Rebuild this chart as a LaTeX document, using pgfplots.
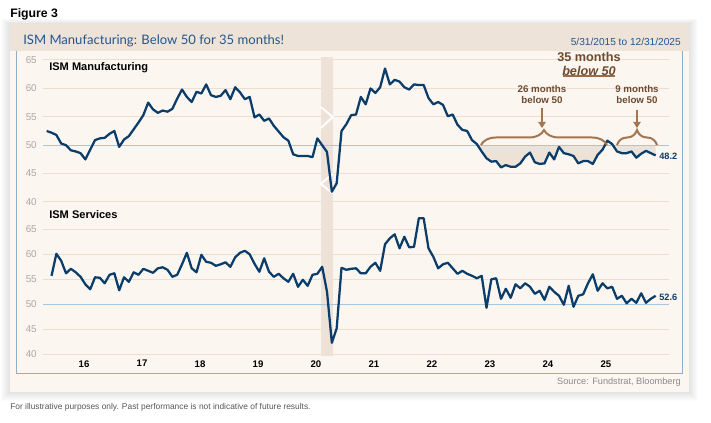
\documentclass[border=0pt]{standalone}
\usepackage{fontspec}
\setmainfont{Liberation Sans}
\newfontfamily\titlefont{Lato}
\usepackage{pgfplots}
\usepackage{pgfplotstable}
\pgfplotsset{compat=1.18}
\usetikzlibrary{decorations.pathreplacing,arrows.meta}
\definecolor{navy}{HTML}{0B3D6B}
\definecolor{bodyc}{HTML}{FCF6F0}
\definecolor{headc}{HTML}{EEE3D9}
\definecolor{gridc}{HTML}{EADFD3}
\definecolor{fiftyc}{HTML}{A6C6DD}
\definecolor{bandc}{HTML}{EEE2D8}
\definecolor{shadec}{HTML}{EEE2D7}
\definecolor{bracec}{HTML}{A47650}
\definecolor{annc}{HTML}{6E4A2E}
\definecolor{titleblue}{HTML}{24578A}
\definecolor{framec}{HTML}{8EB0CD}
\definecolor{tickc}{HTML}{A8A8A8}
\definecolor{srcc}{HTML}{8A8A8A}
\definecolor{footc}{HTML}{555555}

\pgfplotstableread{
m v
0 52.5
1 52.2
2 51.8
3 50.3
4 50.0
5 49.1
6 48.9
7 48.6
8 47.5
9 49.2
10 50.9
11 51.2
12 51.3
13 52.0
14 52.5
15 49.7
16 51.0
17 51.6
18 52.8
19 54.0
20 55.3
21 57.5
22 56.3
23 55.7
24 56.1
25 55.9
26 56.4
27 58.2
28 59.8
29 58.5
30 57.6
31 59.4
32 59.1
33 60.7
34 58.8
35 58.5
36 58.7
37 59.7
38 58.1
39 60.2
40 59.3
41 58.1
42 58.5
43 54.9
44 55.4
45 54.3
46 54.7
47 53.4
48 52.4
49 51.4
50 50.8
51 48.4
52 48.1
53 48.1
54 48.1
55 47.9
56 51.2
57 50.0
58 48.8
59 41.8
60 43.3
61 52.5
62 53.7
63 55.3
64 55.4
65 58.5
66 57.2
67 60.0
68 59.2
69 60.2
70 63.5
71 60.7
72 61.5
73 61.2
74 60.2
75 59.8
76 60.7
77 60.6
78 60.6
79 58.3
80 57.2
81 57.6
82 57.1
83 55.1
84 55.4
85 53.6
86 52.7
87 52.5
88 50.9
89 50.2
90 48.9
91 47.7
92 47.1
93 47.2
94 46.1
95 46.5
96 46.2
97 46.2
98 46.8
99 48.0
100 48.7
101 47.0
102 46.7
103 46.8
104 48.7
105 47.5
106 49.7
107 48.6
108 48.4
109 48.1
110 46.8
111 47.2
112 47.2
113 46.7
114 48.3
115 49.2
116 50.8
117 50.2
118 48.9
119 48.6
120 48.6
121 48.9
122 47.8
123 48.5
124 49.0
125 48.6
126 48.2
}\manu

\pgfplotstableread{
m v
1 55.7
2 60.1
3 58.7
4 56.2
5 57.1
6 56.4
7 55.5
8 54.0
9 53.0
10 55.4
11 55.3
12 54.2
13 55.9
14 56.2
15 52.8
16 55.4
17 54.5
18 56.4
19 55.9
20 57.1
21 56.7
22 56.3
23 57.2
24 57.4
25 56.9
26 55.5
27 55.9
28 58.0
29 60.3
30 57.2
31 56.4
32 59.9
33 58.5
34 58.3
35 57.7
36 58.0
37 58.4
38 57.5
39 59.4
40 60.3
41 60.7
42 60.0
43 58.1
44 56.5
45 59.2
46 56.5
47 55.5
48 56.1
49 55.2
50 54.5
51 56.1
52 53.5
53 54.9
54 53.7
55 55.9
56 56.1
57 57.5
58 52.5
59 42.3
60 45.2
61 57.3
62 56.9
63 57.1
64 57.2
65 56.2
66 56.2
67 57.5
68 58.3
69 56.7
70 62.0
71 63.2
72 64.0
73 61.2
74 63.5
75 61.4
76 61.5
77 67.2
78 67.2
79 61.2
80 59.5
81 57.2
82 58.0
83 58.3
84 57.2
85 56.1
86 56.7
87 56.1
88 55.7
89 55.2
90 55.7
91 49.3
92 55.0
93 55.2
94 51.1
95 53.1
96 51.3
97 54.0
98 53.2
99 54.2
100 53.5
101 52.1
102 52.7
103 50.9
104 53.5
105 52.5
106 51.7
107 49.9
108 53.7
109 49.5
110 51.7
111 52.0
112 54.2
113 56.0
114 52.7
115 54.2
116 53.2
117 53.5
118 51.1
119 51.7
120 50.2
121 51.1
122 50.3
123 52.2
124 50.3
125 51.1
126 51.7
}\serv

\pgfplotsset{
  panel/.style={
    anchor=south west, scale only axis, width=469.5pt,
    xmin=-0.766, xmax=128.76, ymin=40, ymax=65,
    ytick={40,45,...,65}, ymajorgrids,
    grid style={gridc, line width=0.75pt},
    axis line style={draw=none}, major tick length=0pt,
    tick style={draw=none},
    /pgf/number format/assume math mode=true,
    yticklabel style={font=\fontsize{7.4}{8}\selectfont, text=tickc, anchor=east, inner sep=0pt, xshift=-4.5pt},
    clip=false,
  }
}

\begin{document}
\begin{tikzpicture}
\path (0,0) rectangle (533.25pt,316.5pt);
\begin{scope}[x=0.75pt,y=-0.75pt,shift={(0pt,316.5pt)}]
  \foreach \i in {1,...,9} {
    \fill[black,opacity=0.010] (10-\i,24-0.6*\i) rectangle (689+\i,392+\i);
  }
  \fill[bodyc] (10,24) rectangle (689,392);
  \fill[headc] (10,24) rectangle (689,51);
  \draw[framec, line width=0.75pt] (16.5,51) -- (16.5,373) -- (682,373) -- (682,51);
  \begin{scope}[every node/.style={inner sep=0pt}]
  \node[anchor=west, font=\bfseries\fontsize{9.2}{11}\selectfont] at (10,14) {Figure 3};
  \node[anchor=west, text=titleblue, font=\titlefont\fontsize{9.8}{12}\selectfont] at (23,41) {ISM Manufacturing: Below 50 for 35 months!};
  \node[anchor=east, text=titleblue, font=\fontsize{7.6}{9}\selectfont] at (681,42) {5/31/2015 to 12/31/2025};
  \node[anchor=east, text=srcc, font=\fontsize{6.9}{8}\selectfont] at (681,382) {Source: Fundstrat, Bloomberg};
  \node[anchor=west, text=footc, font=\fontsize{6.3}{8}\selectfont] at (10,407) {For illustrative purposes only. Past performance is not indicative of future results.};
  \end{scope}
\end{scope}

\begin{axis}[panel, at={(32.25pt,165pt)}, height=106.5pt, xtick=\empty]
  \fill[bandc] (axis cs:56.7,65.58) rectangle (axis cs:59.2,37.54);
  \draw[white, line width=1.4pt] (axis cs:56.7,56.73) -- (axis cs:59.2,54.96) -- (axis cs:56.7,53.03);
  \draw[white, line width=1.4pt] (axis cs:59.2,44.96) -- (axis cs:56.7,43.2) -- (axis cs:59.2,41.5);
  \addplot[fill=shadec, draw=none, forget plot] coordinates {
    (89.15,50) (90,48.9) (91,47.7) (92,47.1) (93,47.2) (94,46.1) (95,46.5) (96,46.2)
    (97,46.2) (98,46.8) (99,48.0) (100,48.7) (101,47.0) (102,46.7) (103,46.8) (104,48.7)
    (105,47.5) (106,49.7) (107,48.6) (108,48.4) (109,48.1) (110,46.8) (111,47.2) (112,47.2)
    (113,46.7) (114,48.3) (115,49.2) (115.5,50)} -- cycle;
  \addplot[fill=shadec, draw=none, forget plot] coordinates {
    (117.15,50) (118,48.9) (119,48.6) (120,48.6) (121,48.9) (122,47.8) (123,48.5)
    (124,49.0) (125,48.6) (126,48.2) (126,50)} -- cycle;
  \addplot[fiftyc, line width=0.9pt, forget plot] coordinates {(-0.766,50) (128.76,50)};
  \addplot[navy, line width=1.7pt, line join=round] table[x=m,y=v]{\manu};
\end{axis}

\begin{axis}[panel, at={(32.25pt,50.775pt)}, height=93.75pt,
  xtick={7.72,19.72,31.72,43.72,55.72,67.72,79.72,91.72,103.72,115.72},
  xticklabels={16,17,18,19,20,21,22,23,24,25},
  xticklabel style={font=\bfseries\fontsize{7.2}{8}\selectfont, text=black, yshift=-1pt}]
  \fill[bandc] (axis cs:56.7,67.66) rectangle (axis cs:59.2,39.66);
  \addplot[fiftyc, line width=0.9pt, forget plot] coordinates {(-0.766,50) (128.76,50)};
  \addplot[navy, line width=1.7pt, line join=round] table[x=m,y=v]{\serv};
\end{axis}

\begin{scope}[x=0.75pt,y=-0.75pt,shift={(0pt,316.5pt)}]
  \begin{scope}[every node/.style={inner sep=0pt}]
  \node[anchor=west, font=\bfseries\fontsize{8.3}{10}\selectfont] at (49,68) {ISM Manufacturing};
  \node[anchor=west, font=\bfseries\fontsize{8.3}{10}\selectfont] at (49,215) {ISM Services};
  \node[anchor=west, text=navy, font=\bfseries\fontsize{6.9}{8}\selectfont] at (659,156.5) {48.2};
  \node[anchor=west, text=navy, font=\bfseries\fontsize{6.9}{8}\selectfont] at (659,297) {52.6};
  \node[text=annc, font=\bfseries\fontsize{9.5}{11}\selectfont] at (589,57) {35 months};
  \node[text=annc, font=\bfseries\itshape\fontsize{9.5}{11}\selectfont] at (589,71) {below 50};
  \node[text=annc, font=\bfseries\fontsize{7.3}{8.5}\selectfont, align=center] at (542,94.5) {26 months\\below 50};
  \node[text=annc, font=\bfseries\fontsize{7.3}{8.5}\selectfont, align=center] at (637,94.5) {9 months\\below 50};
  \end{scope}
  \draw[bracec!80!annc, line width=1.5pt] (563,76.5) -- (615,76.5);
  \draw[bracec, line width=1.5pt, -{Triangle[length=4.5pt,width=5.5pt]}] (542,108) -- (542,128);
  \draw[bracec, line width=1.5pt, -{Triangle[length=4.5pt,width=5.5pt]}] (637,110) -- (637,128);
  \draw[bracec, line width=1.5pt, decorate, decoration={brace, amplitude=11.25pt}] (481,145) -- (607,145);
  \draw[bracec, line width=1.5pt, decorate, decoration={brace, amplitude=11.25pt}] (617,145) -- (657,145);
\end{scope}
\end{tikzpicture}
\end{document}
